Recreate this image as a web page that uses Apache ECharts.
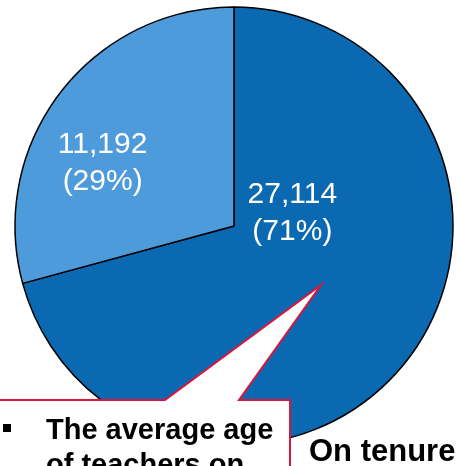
<!DOCTYPE html>
<html>
<head>
<meta charset="utf-8">
<script src="https://cdn.jsdelivr.net/npm/echarts@6/dist/echarts.min.js"></script>
<style>
  html, body { margin: 0; padding: 0; background: #fff; }
  #chart { width: 457px; height: 466px; }
</style>
</head>
<body>
<div id="chart"></div>
<script>
// teachers by tenure status
var categories = ['On tenure', 'Not on tenure'];
var values = [27114, 11192];
var sliceColors = ['#0a69b1', '#4e9bdb'];
// nudges to move the inside labels where the original had them
var labelShift = [[-31, -81], [-42, 6]];

var chart = echarts.init(document.getElementById('chart'));

var pieData = categories.map(function (name, i) {
  return { name: name, value: values[i], itemStyle: { color: sliceColors[i] } };
});

chart.setOption({
  animation: false,
  series: [{
    type: 'pie',
    center: [234, 226],
    radius: 219,
    startAngle: 90,
    clockwise: true,
    data: pieData,
    itemStyle: {
      borderColor: '#000',
      borderWidth: 1.5
    },
    label: {
      show: true,
      position: 'inside',
      color: '#fff',
      fontFamily: 'Liberation Sans',
      fontSize: 30,
      lineHeight: 37,
      formatter: function (p) {
        return p.value.toLocaleString('en-US') + '\n(' + Math.round(p.percent) + '%)';
      }
    },
    labelLayout: function (p) {
      return { dx: labelShift[p.dataIndex][0], dy: labelShift[p.dataIndex][1] };
    },
    emphasis: { disabled: true }
  }],
  graphic: [
    {
      // callout box with pointer
      type: 'polygon',
      z: 100,
      shape: {
        points: [[-5, 400], [165, 400], [321, 285], [239, 400], [290, 400], [290, 490], [-5, 490]]
      },
      style: { fill: '#fff', stroke: '#d9163e', lineWidth: 2 }
    },
    {
      type: 'rect',
      z: 101,
      shape: { x: 3, y: 424, width: 8, height: 8 },
      style: { fill: '#000' }
    },
    {
      type: 'text',
      z: 101,
      left: 46,
      top: 413,
      style: {
        text: 'The average age\nof teachers on',
        font: 'bold 29px "Liberation Sans"',
        lineHeight: 35,
        fill: '#000'
      }
    },
    {
      type: 'text',
      z: 101,
      left: 309,
      top: 437,
      style: {
        text: 'On tenure',
        font: 'bold 31px "Liberation Sans"',
        fill: '#000'
      }
    }
  ]
});
</script>
</body>
</html>
